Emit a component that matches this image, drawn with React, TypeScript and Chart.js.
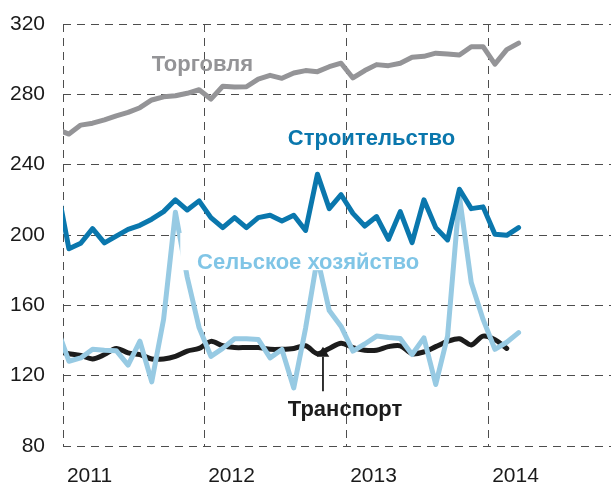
import { useEffect, useRef } from "react";
import { Chart, registerables } from "chart.js";

Chart.register(...registerables);

// Monthly points, Dec 2010 .. Mar 2014 (x index: Jan 2011 = 0)
const months = [
  "2010-12",
  "2011-01", "2011-02", "2011-03", "2011-04", "2011-05", "2011-06", "2011-07", "2011-08", "2011-09", "2011-10", "2011-11", "2011-12",
  "2012-01", "2012-02", "2012-03", "2012-04", "2012-05", "2012-06", "2012-07", "2012-08", "2012-09", "2012-10", "2012-11", "2012-12",
  "2013-01", "2013-02", "2013-03", "2013-04", "2013-05", "2013-06", "2013-07", "2013-08", "2013-09", "2013-10", "2013-11", "2013-12",
  "2014-01", "2014-02", "2014-03",
];

const yearLabels = ["2011", "2012", "2013", "2014"];
const yearBoundaries = [-0.5, 11.5, 23.5, 35.5];
const yTicks = [80, 120, 160, 200, 240, 280, 320];

const torgovlya = [
  260, 257.4, 262.5, 263.6, 265.5, 267.8, 269.7, 272.4, 276.8, 278.6, 279.2, 280.6, 282.6,
  277.3, 284.6, 284.2, 284.3, 288.7, 290.8, 289.1, 292.1, 293.5, 292.9, 295.7, 297.7,
  289.3, 293.5, 296.9, 296.3, 297.7, 301.1, 301.6, 303.4, 303, 302.4, 307.1, 307.1,
  297.2, 305.4, 309.1,
];

const stroitelstvo = [
  227.6, 192.2, 195.3, 203.6, 195.5, 199.4, 203.2, 205.5, 209, 213.3, 220, 214.2, 219.4,
  209.9, 204.2, 209.9, 204.2, 209.9, 211.2, 208, 211.2, 202.6, 234.6, 215, 222.9,
  212.3, 205.1, 210.5, 197.5, 213.3, 195.7, 220, 204.2, 197.2, 226, 215, 216,
  200.4, 199.8, 204.2,
];

const selskoe = [
  147, 128.2, 130.1, 135, 134.5, 134.2, 126, 139.6, 116.5, 152, 213, 176, 147.3,
  131, 135.5, 141, 141, 140.6, 130.1, 134.9, 113, 147, 187, 157, 148,
  134, 138, 142.5, 141.7, 141.1, 132, 141.5, 115, 142.5, 222, 173, 152,
  135, 139, 144.5,
];

const transport = [
  133.5, 132.5, 131.5, 129.5, 132, 135.5, 133, 132, 129.5, 129.5, 131, 134, 135.5,
  139.5, 137, 136, 136, 136, 135, 135, 135.5, 137, 132.5, 135.5, 138.5,
  136, 134.5, 134.5, 136.5, 137, 132.5, 133.5, 136.5, 139.5, 141, 137.5, 142.5,
  140.5, 135.5, null,
];

const FONT = '"Liberation Sans", Arial, Helvetica, sans-serif';
const GRAY = "#949497";
const BLUE = "#0a77ad";
const LIGHT = "#97cae3";
const LIGHT_TEXT = "#80c5e6";
const BLACK = "#1c1c1c";
const GRID = "#4d4d4d";

const toPoints = (arr: (number | null)[]) =>
  arr.map((v, i) => ({ x: i - 1, y: v as number }));

const annotationsPlugin = {
  id: "annotations",
  afterDatasetDraw(chart: any, args: any) {
    if (args.index !== 1) return;
    const { ctx, scales } = chart;
    const x = scales.x;
    const y = scales.y;
    ctx.save();
    const x0 = x.getPixelForValue(9.41);
    const x1 = x.getPixelForValue(30.6);
    const y0 = y.getPixelForValue(201.2);
    const y1 = y.getPixelForValue(180);
    ctx.fillStyle = "#ffffff";
    ctx.fillRect(x0, y0, x1 - x0, y1 - y0);
    ctx.font = `bold 22px ${FONT}`;
    ctx.textAlign = "left";
    ctx.textBaseline = "alphabetic";
    ctx.fillStyle = LIGHT_TEXT;
    ctx.fillText("Сельское хозяйство", x.getPixelForValue(10.83), y.getPixelForValue(180.5));
    ctx.restore();
  },
  afterDatasetsDraw(chart: any) {
    const { ctx, scales } = chart;
    const x = scales.x;
    const y = scales.y;
    ctx.save();
    ctx.font = `bold 22px ${FONT}`;
    ctx.textAlign = "left";
    ctx.textBaseline = "alphabetic";
    ctx.fillStyle = GRAY;
    ctx.fillText("Торговля", x.getPixelForValue(7.0), y.getPixelForValue(293.4));
    ctx.fillStyle = BLUE;
    ctx.fillText("Строительство", x.getPixelForValue(18.5), y.getPixelForValue(251.3));
    ctx.fillStyle = BLACK;
    ctx.fillText("Транспорт", x.getPixelForValue(18.5), y.getPixelForValue(97.3));

    // arrow
    const ax = x.getPixelForValue(21.47);
    const tip = y.getPixelForValue(136.4);
    const base = y.getPixelForValue(130.7);
    const tail = y.getPixelForValue(111.1);
    ctx.strokeStyle = BLACK;
    ctx.lineWidth = 1.8;
    ctx.beginPath();
    ctx.moveTo(ax, tail);
    ctx.lineTo(ax, base);
    ctx.stroke();
    ctx.fillStyle = BLACK;
    ctx.beginPath();
    ctx.moveTo(ax, tip);
    ctx.lineTo(ax - 6.3, base);
    ctx.lineTo(ax + 6.3, base);
    ctx.closePath();
    ctx.fill();
    ctx.restore();
  },
};

export default function App() {
  const ref = useRef<HTMLCanvasElement | null>(null);

  useEffect(() => {
    if (!ref.current) return;
    document.body.style.margin = "0";
    const lineDs = (label: string, data: (number | null)[], color: string, tension = 0) => ({
      label,
      data: toPoints(data),
      borderColor: color,
      backgroundColor: color,
      borderWidth: 5,
      pointRadius: 0,
      tension,
      borderCapStyle: "round" as const,
      borderJoinStyle: "round" as const,
      clip: 0,
      fill: false,
    });
    const chart = new Chart(ref.current, {
      type: "line",
      data: {
        labels: months,
        datasets: [
          lineDs("Строительство", stroitelstvo, BLUE),
          lineDs("Сельское хозяйство", selskoe, LIGHT),
          lineDs("Транспорт", transport, BLACK, 0.3),
          lineDs("Торговля", torgovlya, GRAY),
        ],
      },
      options: {
        animation: false,
        responsive: false,
        devicePixelRatio: 1,
        layout: { padding: { top: 24, left: 0, right: 0, bottom: 0 } },
        plugins: {
          legend: { display: false },
          tooltip: { enabled: false },
        },
        scales: {
          x: {
            type: "linear",
            min: -0.5,
            max: 45.81,
            afterBuildTicks: (s: any) => {
              s.ticks = yearBoundaries.map((v) => ({ value: v }));
            },
            afterFit: (s: any) => {
              s.height = 40;
              s.paddingLeft = 0;
              s.paddingRight = 0;
            },
            grid: { color: GRID, lineWidth: 1, drawTicks: false },
            border: { display: false, dash: [8, 6] },
            ticks: {
              autoSkip: false,
              maxRotation: 0,
              padding: 18,
              labelOffset: 26.5,
              color: "#1a1a1a",
              font: { size: 21, family: FONT },
              callback: (_v: any, i: number) => yearLabels[i],
            },
          },
          y: {
            type: "linear",
            min: 80,
            max: 320,
            afterBuildTicks: (s: any) => {
              s.ticks = yTicks.map((v) => ({ value: v }));
            },
            afterFit: (s: any) => {
              s.width = 63;
              s.paddingTop = 0;
              s.paddingBottom = 0;
            },
            grid: { color: GRID, lineWidth: 1, drawTicks: false },
            border: { display: false, dash: [8, 6] },
            ticks: {
              padding: 18,
              color: "#1a1a1a",
              font: { size: 21, family: FONT },
            },
          },
        },
      },
      plugins: [annotationsPlugin],
    } as any);
    return () => chart.destroy();
  }, []);

  return (
    <div style={{ position: "fixed", left: 0, top: 0, width: 611, height: 486, overflow: "hidden", background: "#fff" }}>
      <canvas ref={ref} width={611} height={486} style={{ display: "block", width: 611, height: 486 }} />
    </div>
  );
}
